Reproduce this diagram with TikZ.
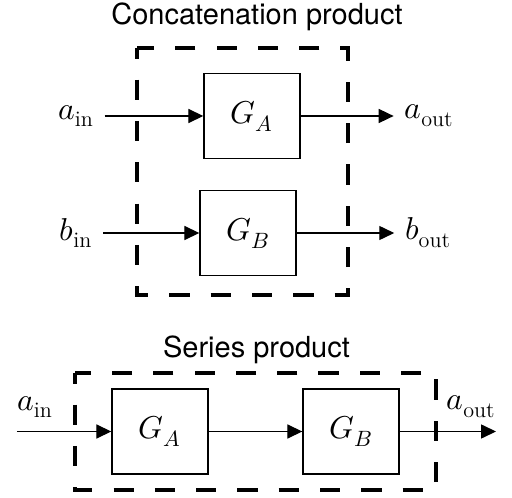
\documentclass[tikz,border=0pt]{standalone}
\usepackage{amsmath}
\usepackage{fontspec}
\usepackage{unicode-math}
\setmathfont{Latin Modern Math}
\setsansfont{TeX Gyre Heros}
\usetikzlibrary{arrows.meta, positioning}
\tikzset{
  block/.style={draw, line width=0.8pt, minimum width=1.92cm, minimum height=1.7cm, inner sep=0pt, font=\fontsize{18}{21}\selectfont},
  signal/.style={-{Triangle[length=8.5pt,width=8pt]}, line width=0.7pt},
  port/.style={inner sep=6pt, font=\fontsize{18}{21}\selectfont},
  frame/.style={line width=1.9pt, dash pattern=on 11.5pt off 12pt, dash phase=5.5pt},
  heading/.style={anchor=base, font=\sffamily\fontsize{16.5}{20}\selectfont}
}

\begin{document}
\begin{tikzpicture}
  \useasboundingbox (0,0) rectangle (10.24,-9.96);
  % Concatenation product
  \node[heading] (concat) at (5.14,-0.5) {Concatenation product};
  \draw[frame] (2.74,-0.96) rectangle (6.96,-5.9);
  \node[block] (GA) at (5.04,-2.32) {$G_A$};
  \node[block] (GB) at (4.96,-4.66) {$G_B$};
  \node[port] (ain) at (1.52,-2.32) {$a_{\mathrm{in}}$};
  \node[port] (aout) at (8.58,-2.32) {$a_{\mathrm{out}}$};
  \node[port] (bin) at (1.52,-4.66) {$b_{\mathrm{in}}$};
  \node[port] (bout) at (8.56,-4.66) {$b_{\mathrm{out}}$};
  \draw[signal] (ain) -- (GA);
  \draw[signal] (GA) -- (aout);
  \draw[signal] (bin) -- (GB);
  \draw[signal] (GB) -- (bout);
  % Series product
  \node[heading] (series) at (5.13,-7.15) {Series product};
  \draw[frame] (1.5,-7.46) rectangle (8.72,-9.8);
  \node[block] (GAs) at (3.2,-8.63) {$G_A$};
  \node[block] (GBs) at (7.02,-8.63) {$G_B$};
  \coordinate (sin) at (0.34,-8.63);
  \coordinate (sout) at (9.92,-8.63);
  \node[port, inner sep=0pt] (ains) at (0.7,-8.14) {$a_{\mathrm{in}}$};
  \node[port, inner sep=0pt] (aouts) at (9.42,-8.14) {$a_{\mathrm{out}}$};
  \draw[signal] (sin) -- (GAs);
  \draw[signal] (GAs) -- (GBs);
  \draw[signal] (GBs) -- (sout);
\end{tikzpicture}
\end{document}
